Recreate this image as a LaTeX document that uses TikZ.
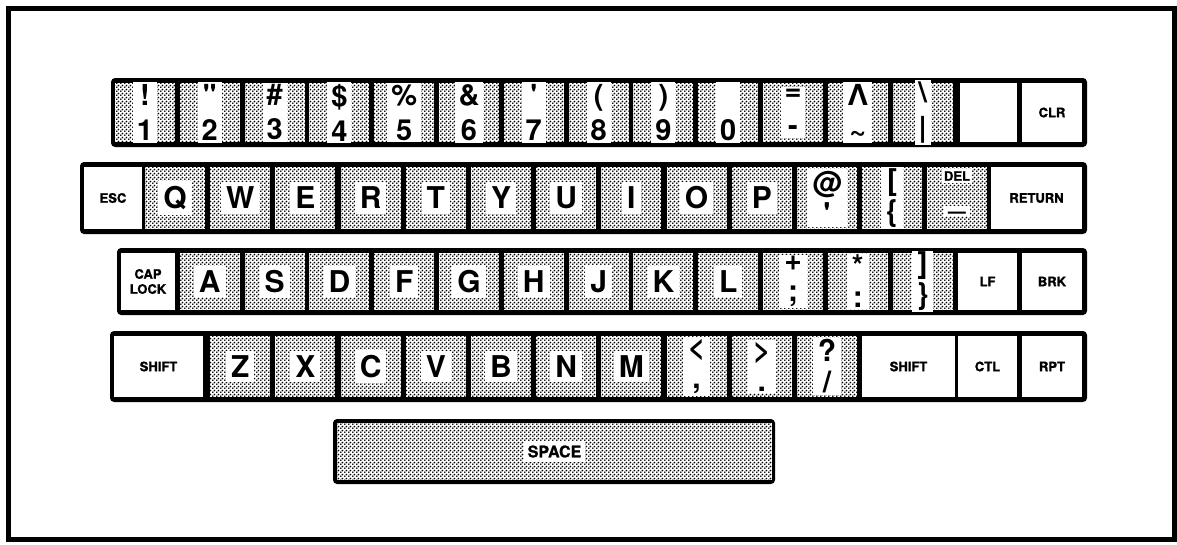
\documentclass[tikz,border=0pt]{standalone}
\usepackage{fontspec}
\setmainfont{TeX Gyre Heros}
\newfontfamily\heavyfont[BoldFeatures={FakeBold=1.3}]{TeX Gyre Heros}
\usetikzlibrary{patterns.meta}
\tikzdeclarepattern{
  name=halftone,
  type=uncolored,
  bounding box={(0pt,0pt) and (4pt,4pt)},
  tile size={(4pt,4pt)},
  code={
    \fill (1pt,1pt) circle (1.15pt);
    \fill (3pt,3pt) circle (1.15pt);
  }
}
\begin{document}
\begin{tikzpicture}[x=1pt,y=-1pt,
  rowbox/.style={fill=black, rounded corners=4pt},
  dk/.style={preaction={fill=white}, pattern=halftone, pattern color=black, inner sep=0pt, outer sep=0pt, anchor=north west, minimum width=60pt},
  wk/.style={fill=white, inner sep=0pt, outer sep=0pt, anchor=north west},
  big/.style={font=\bfseries\fontsize{30}{31}\selectfont, fill=white, inner xsep=5pt, inner ysep=5pt, align=center},
  tall/.style={big, font=\bfseries\fontsize{29}{35}\selectfont, inner ysep=2pt, inner xsep=4pt},
  sm/.style={font=\heavyfont\bfseries\fontsize{13}{15}\selectfont, align=center, inner sep=2pt},
]
\useasboundingbox (0,0) rectangle (1177,544);
\draw[line width=5pt] (8,8) rectangle (1174,539);

% row 1
\fill[rowbox] (111,78) rectangle (1087,147);
\foreach \ua/\ub [count=\i from 0] in {!/1, \textquotedbl/2, \#/3, \$/4, \%/5, \&/6, \textquotesingle/7, {(}/8, {)}/9, \phantom{0}/0, =/-, Λ/\textasciitilde, \textbackslash/|}{
  \node[dk, minimum height=59pt] (n\i) at ({115+64.8*\i},83) {};
  \node[tall] (nl\i) at (n\i.center) {\ua\\\ub};
}
\node[wk, minimum width=57pt, minimum height=59pt] (blank) at (960,83) {};
\node[wk, minimum width=60pt, minimum height=59pt] (clr) at (1022,83) {};
\node[sm] (clrl) at (clr.center) {CLR};

% row 2
\fill[rowbox] (80,162) rectangle (1087,234);
\node[wk, minimum width=58pt, minimum height=62pt] (esc) at (84,167) {};
\node[sm] (escl) at (esc.center) {ESC};
\foreach \L [count=\j from 0] in {Q,W,E,R,T,Y,U,I,O,P}{
  \node[dk, minimum height=62pt] (k\L) at ({145+65.2*\j},167) {};
  \node[big] (l\L) at (k\L.center) {\L};
}
\node[dk, minimum height=62pt] (kat) at (797,167) {};
\node[big, inner ysep=2pt] (lat) at (kat.center) {@\\\textquotesingle};
\node[dk, minimum height=62pt] (kbr) at (862,167) {};
\node[big, inner ysep=2pt] (lbr) at (kbr.center) {[\\\{};
\node[dk, minimum height=62pt] (kdel) at (927,167) {};
\node[sm, fill=white] (ldel) at (957,176) {DEL};
\node[big, anchor=base, inner ysep=2pt] (lund) at (957,208) {\_};
\node[wk, minimum width=91pt, minimum height=62pt] (ret) at (991,167) {};
\node[sm] (retl) at (ret.center) {RETURN};

% row 3
\fill[rowbox] (117,248) rectangle (1087,315);
\node[wk, minimum width=54pt, minimum height=57pt] (cap) at (121,253) {};
\node[sm] (capl) at (cap.center) {CAP\\LOCK};
\foreach \L [count=\i from 1] in {A,S,D,F,G,H,J,K,L}{
  \node[dk, minimum height=57pt] (k\L) at ({115+64.8*\i},253) {};
  \node[big] (l\L) at (k\L.center) {\L};
}
\foreach \ua/\ub [count=\i from 10] in {+/;, */:, ]/\}}{
  \node[dk, minimum height=57pt] (p\i) at ({115+64.8*\i},253) {};
  \node[big, inner ysep=1pt] (pl\i) at (p\i.center) {\ua\\\ub};
}
\node[wk, minimum width=59pt, minimum height=57pt] (lf) at (958,253) {};
\node[sm] (lfl) at (lf.center) {LF};
\node[wk, minimum width=60pt, minimum height=57pt] (brk) at (1022,253) {};
\node[sm] (brkl) at (brk.center) {BRK};

% row 4
\fill[rowbox] (110,331) rectangle (1087,402);
\node[wk, minimum width=89pt, minimum height=61pt] (shl) at (114,336) {};
\node[sm] (shll) at (shl.center) {SHIFT};
\foreach \L [count=\j from 1] in {Z,X,C,V,B,N,M}{
  \node[dk, minimum height=61pt] (k\L) at ({145+65.2*\j},336) {};
  \node[big] (l\L) at (k\L.center) {\L};
}
\foreach \ua/\ub [count=\j from 8] in {{<}/{,}, {>}/{.}, {?}/{\slash}}{
  \node[dk, minimum height=61pt] (q\j) at ({145+65.2*\j},336) {};
  \node[big, inner ysep=2pt] (ql\j) at (q\j.center) {\ua\\\ub};
}
\node[wk, minimum width=93pt, minimum height=61pt] (shr) at (862,336) {};
\node[sm] (shrl) at (shr.center) {SHIFT};
\node[wk, minimum width=59pt, minimum height=61pt] (ctl) at (958,336) {};
\node[sm] (ctll) at (ctl.center) {CTL};
\node[wk, minimum width=60pt, minimum height=61pt] (rpt) at (1022,336) {};
\node[sm] (rptl) at (rpt.center) {RPT};

% space bar
\fill[rowbox] (333,419) rectangle (775,484);
\node[dk, minimum width=435pt, minimum height=57pt] (space) at (337,423) {};
\node[sm, fill=white, font=\heavyfont\bfseries\fontsize{16}{16}\selectfont, inner sep=4pt] (spacel) at (space.center) {SPACE};
\end{tikzpicture}
\end{document}
